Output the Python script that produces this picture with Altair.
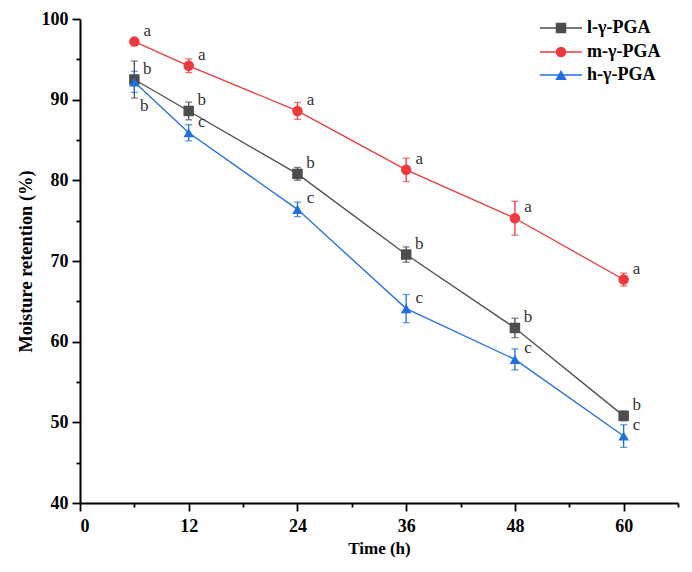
import altair as alt
import pandas as pd

time_h = [6, 12, 24, 36, 48, 60]
series = ["l-γ-PGA", "m-γ-PGA", "h-γ-PGA"]
colors = ["#4d4d4d", "#f0393d", "#1f6fe0"]
shapes = ["square", "circle", "triangle-up"]
sizes = [110, 110, 130]

l_mean = [92.5, 88.6, 80.8, 70.8, 61.7, 50.8]
l_err = [2.3, 1.1, 0.8, 0.95, 1.2, 0.6]
l_sig = ["b", "b", "b", "b", "b", "b"]
l_pos = ["above"] * 6

m_mean = [97.2, 94.2, 88.6, 81.3, 75.3, 67.7]
m_err = [0.4, 0.85, 1.05, 1.45, 2.1, 0.8]
m_sig = ["a", "a", "a", "a", "a", "a"]
m_pos = ["above"] * 6

h_mean = [92.2, 85.9, 76.4, 64.1, 57.8, 48.3]
h_err = [1.3, 1.0, 0.9, 1.75, 1.3, 1.4]
h_sig = ["b", "c", "c", "c", "c", "c"]
h_pos = ["below", "above", "above", "above", "above", "above"]

rows = []
for name, mean, err, sig, pos in [
    (series[0], l_mean, l_err, l_sig, l_pos),
    (series[1], m_mean, m_err, m_sig, m_pos),
    (series[2], h_mean, h_err, h_sig, h_pos),
]:
    for t, v, e, s, p in zip(time_h, mean, err, sig, pos):
        rows.append({"time": t, "value": v, "lo": v - e, "hi": v + e,
                     "series": name, "sig": s, "pos": p})
df = pd.DataFrame(rows)

FONT = "Liberation Serif"
Y_TITLE = "Moisture retention (%)"
color_scale = alt.Scale(domain=series, range=colors)
shape_scale = alt.Scale(domain=series, range=shapes)

x_enc = alt.X(
    "time:Q",
    scale=alt.Scale(domain=[0, 66], nice=False),
    axis=alt.Axis(
        title="Time (h)",
        titleFontSize=17,
        values=list(range(0, 67, 6)),
        labelExpr="datum.value % 12 === 0 && datum.value <= 60 ? datum.label : ''",
        tickSize={"condition": {"test": "datum.value % 12 === 0", "value": 8}, "value": 4},
        labelPadding=6,
        titlePadding=5,
    ),
)
y_enc = alt.Y(
    "value:Q",
    scale=alt.Scale(domain=[40, 100], nice=False),
    axis=alt.Axis(
        title=Y_TITLE,
        titleFontSize=18.4,
        values=list(range(40, 101, 5)),
        labelExpr="datum.value % 10 === 0 ? datum.label : ''",
        tickSize={"condition": {"test": "datum.value % 10 === 0", "value": 8}, "value": 4},
        labelPadding=4,
        titlePadding=6,
    ),
)

base = alt.Chart(df)
color_enc = alt.Color("series:N", scale=color_scale, legend=None)

lines = base.mark_line(strokeWidth=1.3).encode(
    x=x_enc, y=y_enc, color=color_enc, detail="series:N"
)
bars = base.mark_errorbar(ticks=True, size=7, thickness=1.3).encode(
    x="time:Q",
    y=alt.Y("lo:Q", title=Y_TITLE),
    y2="hi:Q",
    color=color_enc,
)
points = base.mark_point(filled=True, opacity=1).encode(
    x="time:Q",
    y="value:Q",
    color=color_enc,
    shape=alt.Shape("series:N", scale=shape_scale, legend=None),
    size=alt.Size("series:N", scale=alt.Scale(domain=series, range=sizes), legend=None),
)
labels_above = base.transform_filter("datum.pos === 'above'").mark_text(
    font=FONT, fontSize=17, color="#333333", dx=13, dy=-11, align="center", baseline="middle"
).encode(x="time:Q", y="value:Q", text="sig:N")
labels_below = base.transform_filter("datum.pos === 'below'").mark_text(
    font=FONT, fontSize=17, color="#333333", dx=10, dy=24, align="center", baseline="middle"
).encode(x="time:Q", y="value:Q", text="sig:N")

legend_layers = []
legend_y = [9, 33, 56]
for name, c, sh, sz, ly in zip(series, colors, shapes, sizes, legend_y):
    ldf = pd.DataFrame({"s": [name]})
    lb = alt.Chart(ldf)
    legend_layers.append(
        lb.mark_rule(color=c, strokeWidth=1.3).encode(
            x=alt.value(460), x2=alt.value(502), y=alt.value(ly)
        )
    )
    legend_layers.append(
        lb.mark_point(shape=sh, filled=True, color=c, size=sz, opacity=1).encode(
            x=alt.value(481), y=alt.value(ly)
        )
    )
    legend_layers.append(
        lb.mark_text(font=FONT, fontSize=18, fontWeight="bold", color="#000000",
                     align="left", baseline="middle").encode(
            x=alt.value(507), y=alt.value(ly), text="s:N"
        )
    )

chart = alt.layer(lines, bars, points, labels_above, labels_below, *legend_layers).properties(
    width=598,
    height=484,
    autosize=alt.AutoSizeParams(type="none"),
    padding={"left": 72, "top": 11, "right": 2, "bottom": 66},
).configure_view(
    stroke=None
).configure_axis(
    domainColor="#000000",
    domainWidth=2,
    tickColor="#000000",
    tickWidth=1.8,
    grid=False,
    labelFont=FONT,
    labelFontSize=18,
    labelFontWeight="bold",
    labelColor="#000000",
    titleFont=FONT,
    titleFontWeight="bold",
    titleColor="#000000",
    labelOverlap=False,
)

chart.save("out.html", embed_options={"renderer": "svg", "actions": False})
